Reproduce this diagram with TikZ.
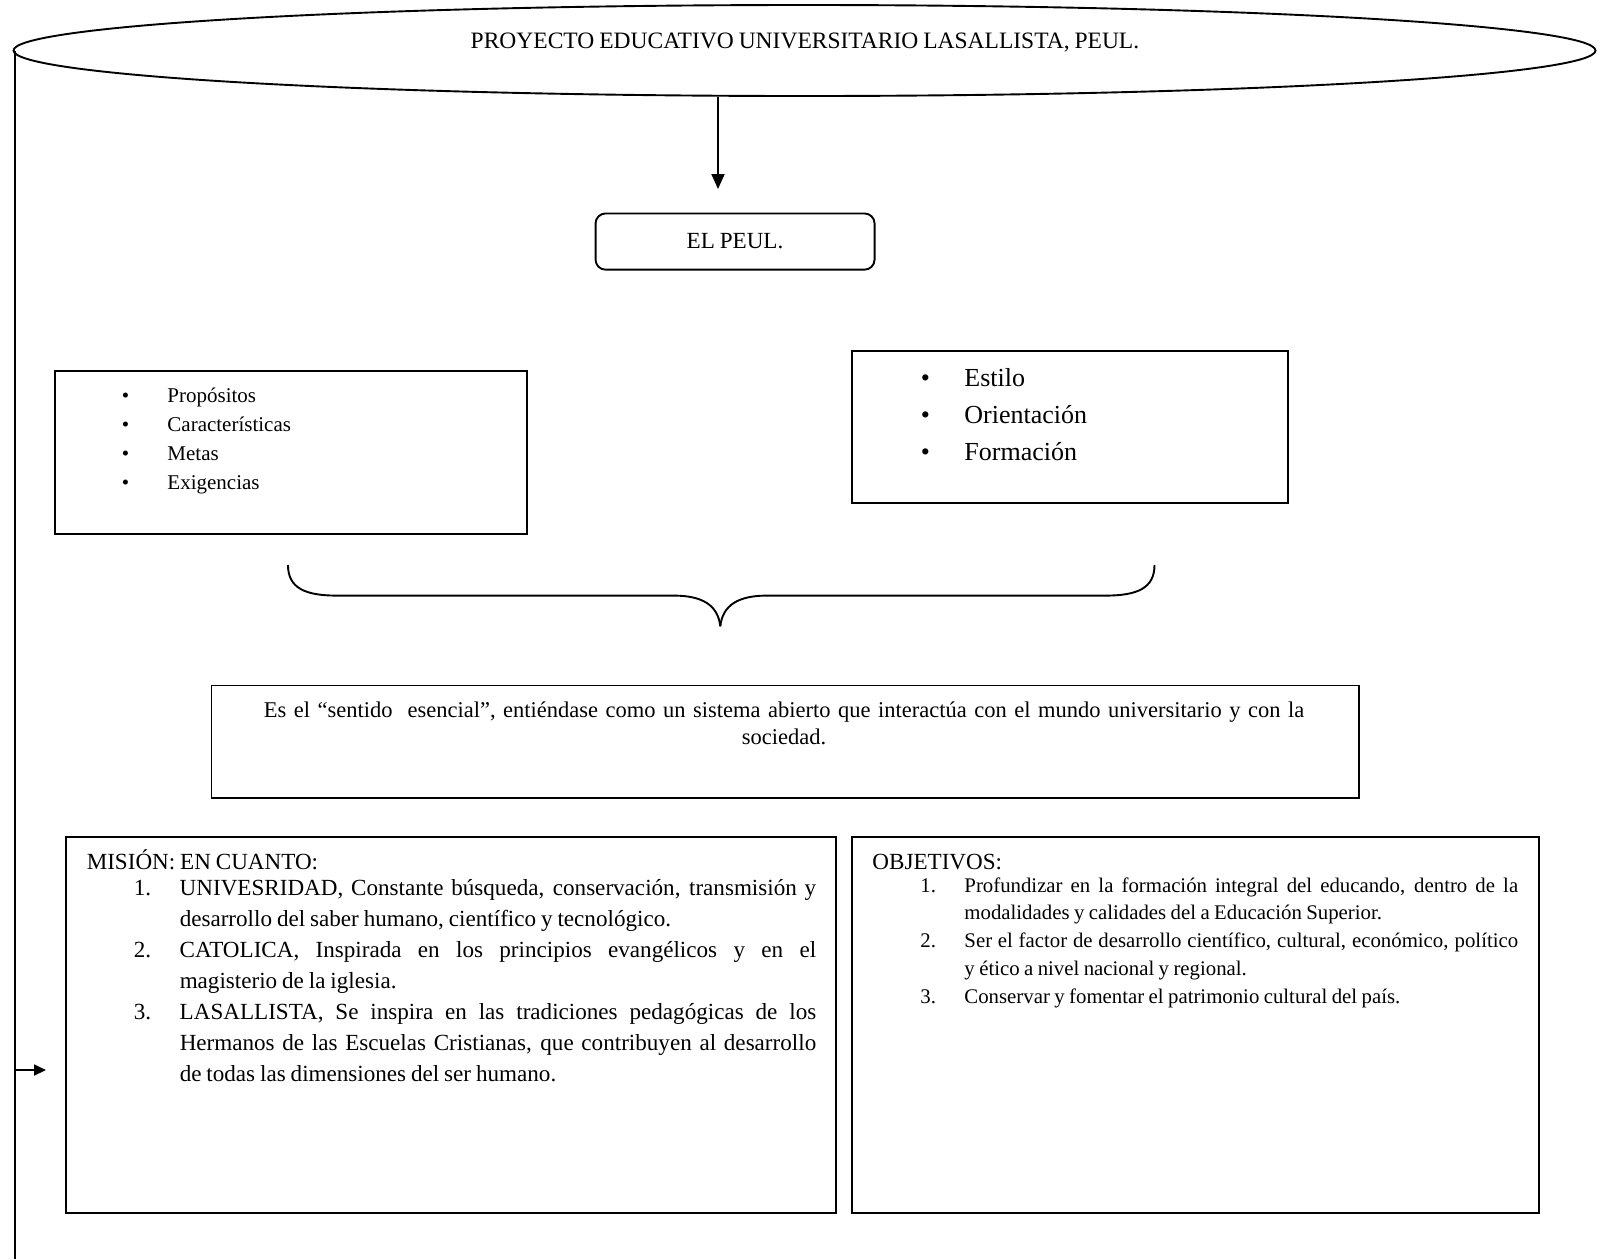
\documentclass[tikz,border=0pt]{standalone}
\usepackage{fontspec}
\setmainfont{Liberation Serif}[WordSpace=0.85]
\usetikzlibrary{shapes.geometric,arrows.meta}
\tolerance=10000
\hbadness=10000
\hyphenpenalty=10000
\exhyphenpenalty=10000
\newcommand\fsT{\fontsize{23.1}{27.7}\selectfont}
\newcommand\fsTitle{\fontsize{23.5}{27.7}\selectfont}
\newcommand\fsMid{\fontsize{22.5}{27.7}\selectfont}
\newcommand\fsE{\fontsize{21}{29}\selectfont}
\newcommand\fsF{\fontsize{26}{36.8}\selectfont}
\newcommand\fsM{\fontsize{23.1}{31}\selectfont}
\newcommand\fsO{\fontsize{20.8}{27.8}\selectfont}
\newcommand\mitem[1]{\hangindent=93pt\hangafter=1\hspace*{47pt}\makebox[46pt][l]{#1}}
\newcommand\oitem[1]{\hangindent=92pt\hangafter=1\hspace*{48pt}\makebox[44pt][l]{#1}}
\begin{document}
\begin{tikzpicture}[x=1pt,y=-1pt,line width=1.9pt,
  boxrect/.style={draw,rectangle,inner sep=0pt,anchor=north west},
  txt/.style={inner sep=0pt,anchor=base west},
  arr/.style={-{Triangle[length=15pt,width=13pt]}},
  arrsmall/.style={-{Triangle[length=12pt,width=11pt]}}]
\useasboundingbox (0,0) rectangle (1602,1259);

% top ellipse
\node[ellipse,draw,minimum width=1582pt,minimum height=91pt,inner sep=0pt] (ell) at (804.5,50.5) {};
\node[txt,anchor=base,font=\fsTitle] (title) at (805,48.5) {PROYECTO EDUCATIVO UNIVERSITARIO LASALLISTA, PEUL.};
\coordinate (atip) at (718,189);
\draw[arr] (ell.south -| atip) -- (atip);

% EL PEUL
\node[draw,rounded corners=10pt,minimum width=279pt,minimum height=56.2pt,inner sep=0pt,anchor=north west,font=\fsT] (peul) at (594.6,212.5) {EL PEUL.};

% left bullet box
\node[boxrect,minimum width=472pt,minimum height=163.4pt] (lbox) at (54.2,369.9) {};
\node[txt,text width=300pt,font=\fsE] (llist) at (121,402.3) {\makebox[45.5pt][l]{\textbullet}Propósitos\\
\makebox[45.5pt][l]{\textbullet}Características\\
\makebox[45.5pt][l]{\textbullet}Metas\\
\makebox[45.5pt][l]{\textbullet}Exigencias};

% right bullet box
\node[boxrect,minimum width=436.3pt,minimum height=151.2pt] (rbox) at (851,350.4) {};
\node[txt,text width=300pt,font=\fsF] (rlist) at (920,386.8) {\makebox[43.5pt][l]{\textbullet}Estilo\\
\makebox[43.5pt][l]{\textbullet}Orientación\\
\makebox[43.5pt][l]{\textbullet}Formación};

% brace
\coordinate (bl) at (288,565);
\coordinate (br) at (1154.5,565);
\coordinate (bt) at (720.3,626.3);
\draw (bl) .. controls (288,588) and (305,595.6) .. (337,595.6) -- (674,595.6) .. controls (702,595.6) and (718,605) .. (bt);
\draw (br) .. controls (1154.5,588) and (1137.5,595.6) .. (1105.5,595.6) -- (766.6,595.6) .. controls (738.6,595.6) and (722.6,605) .. (bt);

% middle box
\node[boxrect,minimum width=1147.3pt,minimum height=112.5pt] (mbox) at (210.5,684.5) {};
\node[txt,anchor=base,text width=1120pt,align=center,font=\fsMid] (mtext) at (784,717) {Es el “sentido~ esencial”, entiéndase como un sistema abierto que interactúa con el mundo universitario y con la\\ sociedad.};

% mision box
\node[boxrect,minimum width=769.3pt,minimum height=376pt] (misbox) at (65.4,835.7) {};
\node[txt,font=\fsT] (mishead) at (85.8,869) {MISIÓN: EN CUANTO:};
\node[txt,font=\fsM] (misitems) at (85.8,895.8) {\parbox[t]{729.5pt}{%
\mitem{1.}UNIVESRIDAD, Constante búsqueda, conservación, transmisión y\linebreak desarrollo del saber humano, científico y tecnológico.\par
\mitem{2.}CATOLICA, Inspirada en los principios evangélicos y en el\linebreak magisterio de la iglesia.\par
\mitem{3.}LASALLISTA, Se inspira en las tradiciones pedagógicas de los\linebreak Hermanos de las Escuelas Cristianas, que contribuyen al desarrollo\linebreak de todas las dimensiones del ser humano.}};

% objetivos box
\node[boxrect,minimum width=686.7pt,minimum height=376pt] (objbox) at (851,835.7) {};
\node[txt,font=\fsT] (objhead) at (871.5,869) {OBJETIVOS:};
\node[txt,font=\fsO] (objitems) at (871.5,892.1) {\parbox[t]{645.7pt}{%
\oitem{1.}Profundizar en la formación integral del educando, dentro de la\linebreak modalidades y calidades del a Educación Superior.\par
\oitem{2.}Ser el factor de desarrollo científico, cultural, económico, político\linebreak y ético a nivel nacional y regional.\par
\oitem{3.}Conservar y fomentar el patrimonio cultural del país.}};

% left connector
\coordinate (lbot) at (15.5,1259);
\coordinate (ltip) at (46,1070);
\coordinate (ltop) at ([xshift=2pt]ell.west);
\draw (ltop) -- (ltop |- lbot);
\draw[arrsmall] (ltip -| lbot) -- (ltip);
\end{tikzpicture}
\end{document}
